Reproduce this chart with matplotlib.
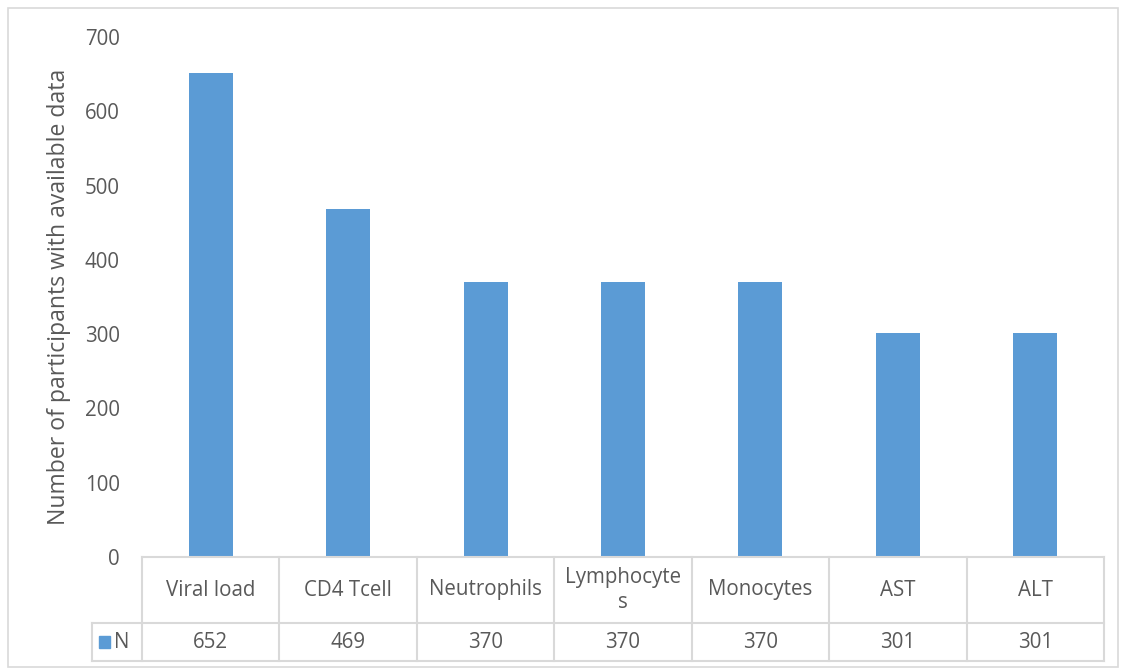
import matplotlib
matplotlib.use("Agg")
import matplotlib.pyplot as plt
from matplotlib.patches import Rectangle

# counts of participants per measurement
categories = ["Viral load", "CD4 Tcell", "Neutrophils", "Lymphocyte\ns", "Monocytes", "AST", "ALT"]
counts = [652, 469, 370, 370, 370, 301, 301]
series_name = "N"

bar_color = "#5B9BD5"
text_color = "#595959"
line_color = "#D9D9D9"

plt.rcParams["font.family"] = ["Open Sans", "DejaVu Sans"]
fs = 14.8

W, H = 1122, 671
fig = plt.figure(figsize=(W / 100, H / 100), dpi=100)

# outer chart border
fig.patches.append(Rectangle((8 / W, 4 / H), 1110 / W, 659 / H, transform=fig.transFigure,
                             fill=False, edgecolor=line_color, linewidth=1.2))

left, right = 142 / W, 1104 / W
ax = fig.add_axes([left, 1 - 557 / H, right - left, 520 / H])
x = range(len(categories))
ax.bar(x, counts, width=0.32, color=bar_color)
ax.set_xlim(-0.5, len(categories) - 0.5)
ax.set_ylim(0, 700)
ax.set_yticks(range(0, 701, 100))
ax.tick_params(axis="y", length=0, pad=16, labelsize=fs, labelcolor=text_color)
ax.set_xticks([])
for s in ax.spines.values():
    s.set_visible(False)
ax.set_ylabel("Number of participants with available data", fontsize=16.6, color=text_color, labelpad=10)

# data table under the plot
tab = fig.add_axes([left, 1 - 661 / H, right - left, 104 / H])
tab.set_xlim(-0.5, len(categories) - 0.5)
tab.set_ylim(0, 1)
tab.axis("off")
mid = 38 / 104
leg_w = 50 / ((right - left) * W / len(categories))
kw = dict(color=line_color, linewidth=1.5, clip_on=False)
tab.plot([-0.5, len(categories) - 0.5], [1, 1], **kw)
tab.plot([-0.5 - leg_w, len(categories) - 0.5], [mid, mid], **kw)
tab.plot([-0.5 - leg_w, len(categories) - 0.5], [0, 0], **kw)
tab.plot([-0.5 - leg_w, -0.5 - leg_w], [0, mid], **kw)
for i in range(len(categories) + 1):
    tab.plot([i - 0.5, i - 0.5], [0, 1], **kw)
for i, (c, v) in enumerate(zip(categories, counts)):
    tab.text(i, (1 + mid) / 2, c, ha="center", va="center", fontsize=fs,
             color=text_color, linespacing=1.25)
    tab.text(i, mid / 2, str(v), ha="center", va="center", fontsize=fs, color=text_color)

# legend key in the table's first column
tab.add_patch(Rectangle((-0.5 - leg_w + 0.05, mid / 2 - 0.055), 0.08, 0.11,
                        color=bar_color, clip_on=False, transform=tab.transData))
tab.text(-0.5 - leg_w + 0.16, mid / 2, series_name, ha="left", va="center",
         fontsize=fs, color=text_color)

fig.savefig("out.png", dpi=100)
